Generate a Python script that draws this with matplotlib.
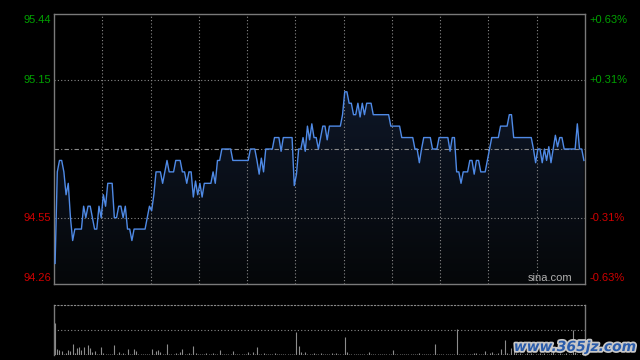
import numpy as np
import matplotlib
matplotlib.use("Agg")
import matplotlib.pyplot as plt
import matplotlib.patheffects as pe
from matplotlib.colors import LinearSegmentedColormap

# price per minute (242 minutes)
prices = [
    94.35, 94.75, 94.80, 94.80, 94.75, 94.65, 94.70, 94.55, 94.45, 94.50,
    94.50, 94.50, 94.50, 94.60, 94.55, 94.60, 94.60, 94.55, 94.50, 94.50,
    94.60, 94.55, 94.65, 94.60, 94.70, 94.70, 94.70, 94.55, 94.55, 94.60,
    94.60, 94.55, 94.60, 94.50, 94.50, 94.45, 94.50, 94.50, 94.50, 94.50,
    94.50, 94.50, 94.55, 94.60, 94.58, 94.65, 94.75, 94.75, 94.75, 94.70,
    94.75, 94.80, 94.75, 94.75, 94.75, 94.80, 94.80, 94.80, 94.75, 94.75,
    94.70, 94.75, 94.75, 94.64, 94.71, 94.65, 94.70, 94.64, 94.70, 94.70,
    94.70, 94.70, 94.75, 94.70, 94.80, 94.80, 94.85, 94.85, 94.85, 94.85,
    94.85, 94.80, 94.80, 94.80, 94.80, 94.80, 94.80, 94.80, 94.80, 94.85,
    94.85, 94.85, 94.80, 94.74, 94.81, 94.75, 94.85, 94.85, 94.85, 94.85,
    94.90, 94.90, 94.90, 94.84, 94.90, 94.90, 94.90, 94.90, 94.90, 94.69,
    94.74, 94.85, 94.85, 94.90, 94.84, 94.95, 94.89, 94.96, 94.90, 94.90,
    94.85, 94.90, 94.95, 94.95, 94.89, 94.95, 94.95, 94.95, 94.95, 94.95,
    94.95, 95.00, 95.10, 95.10, 95.05, 95.05, 95.00, 95.00, 95.05, 94.99,
    95.05, 95.00, 95.05, 95.05, 95.05, 95.00, 95.00, 95.00, 95.00, 95.00,
    95.00, 95.00, 95.00, 94.95, 94.95, 94.95, 94.95, 94.95, 94.90, 94.90,
    94.90, 94.90, 94.90, 94.90, 94.85, 94.85, 94.79, 94.85, 94.90, 94.90,
    94.90, 94.90, 94.85, 94.85, 94.85, 94.90, 94.90, 94.90, 94.90, 94.90,
    94.84, 94.90, 94.90, 94.75, 94.75, 94.70, 94.75, 94.75, 94.75, 94.80,
    94.80, 94.74, 94.80, 94.80, 94.75, 94.75, 94.75, 94.80, 94.85, 94.90,
    94.90, 94.90, 94.90, 94.95, 94.95, 94.95, 94.95, 95.00, 95.00, 94.90,
    94.90, 94.90, 94.90, 94.90, 94.90, 94.90, 94.90, 94.90, 94.85, 94.79,
    94.85, 94.85, 94.79, 94.85, 94.80, 94.86, 94.79, 94.85, 94.91, 94.86,
    94.90, 94.90, 94.85, 94.85, 94.85, 94.85, 94.85, 94.85, 94.96, 94.85,
    94.85, 94.80,
]

volumes = [
    31.7, 5.7, 5.0, 4.0, 1.0, 1.7, 5.0, 4.0, 11.0, 2.3,
    7.0, 8.0, 5.0, 7.7, 1.3, 10.0, 6.7, 3.3, 4.0, 1.0,
    0.7, 8.3, 1.7, 1.0, 0.7, 1.0, 1.3, 10.0, 1.0, 3.3,
    1.0, 2.3, 0.7, 5.7, 1.0, 1.3, 5.7, 4.0, 1.0, 0.7,
    1.0, 0.7, 1.3, 1.0, 5.7, 1.0, 4.0, 5.0, 2.7, 1.0,
    0.7, 11.0, 1.0, 1.3, 0.7, 1.7, 1.0, 3.3, 5.7, 1.0,
    1.3, 2.3, 1.0, 9.0, 2.3, 1.0, 0.7, 1.3, 1.0, 2.3,
    1.0, 0.7, 1.7, 1.0, 1.3, 4.7, 1.0, 0.7, 1.0, 1.3,
    1.0, 4.0, 1.0, 0.7, 1.3, 1.0, 1.0, 0.7, 2.7, 1.0,
    2.7, 1.0, 8.0, 1.3, 1.0, 1.7, 0.7, 1.0, 1.3, 1.0,
    1.7, 1.0, 0.7, 1.3, 1.0, 1.0, 0.7, 1.0, 1.3, 1.0,
    23.0, 9.0, 2.7, 1.0, 3.3, 1.0, 1.3, 0.7, 2.3, 1.0,
    1.0, 1.7, 0.7, 1.0, 1.3, 1.0, 2.3, 1.0, 2.3, 0.7,
    1.0, 1.3, 17.7, 3.3, 1.0, 0.7, 1.0, 1.3, 1.0, 0.7,
    1.0, 1.3, 1.0, 3.3, 1.0, 0.7, 1.0, 1.3, 1.0, 0.7,
    1.0, 1.0, 1.3, 0.7, 5.0, 1.0, 1.0, 0.7, 1.3, 1.0,
    1.0, 0.7, 1.0, 1.3, 1.0, 1.0, 2.3, 0.7, 1.0, 1.3,
    1.0, 0.7, 1.0, 11.0, 1.0, 1.3, 0.7, 1.0, 1.0, 1.3,
    1.0, 0.7, 1.0, 25.7, 1.3, 1.0, 0.7, 1.0, 1.3, 1.0,
    1.0, 2.0, 2.3, 1.0, 1.3, 1.0, 4.0, 1.0, 1.7, 3.3,
    1.0, 1.3, 2.0, 5.7, 1.0, 15.0, 1.7, 1.3, 6.7, 6.0,
    1.7, 1.3, 2.0, 1.0, 1.3, 2.3, 1.0, 1.7, 1.3, 1.0,
    1.3, 2.0, 1.0, 1.7, 1.3, 1.0, 2.3, 5.0, 1.3, 1.0,
    1.7, 1.0, 1.3, 2.0, 1.0, 1.3, 25.0, 2.7, 1.0, 1.3,
    1.7, 1.0,
]

prev_close = 94.85
y_min, y_max = 94.26, 95.44
left_labels = ["95.44", "95.15", "94.55", "94.26"]
left_values = [95.44, 95.15, 94.55, 94.26]
right_labels = ["+0.63%", "+0.31%", "-0.31%", "-0.63%"]
label_colors = ["#00a000", "#00a000", "#d00000", "#d00000"]

x = np.arange(len(prices))
n_slots = 242

fig = plt.figure(figsize=(6.4, 3.6), dpi=100, facecolor="black")
ax = fig.add_axes([54 / 640, 1 - 284 / 360, 531 / 640, 270 / 360])
ax.set_facecolor("black")
ax.set_xlim(-0.5, n_slots - 0.5)
ax.set_ylim(y_min, y_max)
ax.set_xticks([])
ax.set_yticks([])
for s in ax.spines.values():
    s.set_color("#7a7a7a")
    s.set_linewidth(1.0)

# gradient fill under line
cmap = LinearSegmentedColormap.from_list("f", ["#050709", "#121d33"])
grad = np.linspace(0, 1, 256).reshape(-1, 1)
im = ax.imshow(grad, extent=[-0.5, n_slots - 0.5, y_min, y_max], origin="lower",
               aspect="auto", cmap=cmap, zorder=1)
poly = ax.fill_between(x, prices, y_min, facecolor="none", edgecolor="none")
im.set_clip_path(poly.get_paths()[0], transform=ax.transData)

# grid
for k in range(1, 11):
    ax.axvline(-0.5 + n_slots * k / 11, color="#8a8a8a", lw=0.8, ls=(0, (1, 2)), zorder=2)
for v in [95.15, 94.55]:
    ax.axhline(v, color="#8a8a8a", lw=0.8, ls=(0, (1, 2)), zorder=2)
ax.axhline(prev_close, color="#8a8a8a", lw=0.8, ls=(0, (4, 2, 1, 2)), zorder=2)

ax.plot(x, prices, color="#4f8ae6", lw=1.0, zorder=3)

for val, lab, rl, c in zip(left_values, left_labels, right_labels, label_colors):
    dy = 0
    if val == y_max:
        dy = -6
    elif val == y_min:
        dy = 6
    ax.annotate(lab, (0, val), xycoords=("axes fraction", "data"), xytext=(-3, dy),
                textcoords="offset pixels", ha="right", va="center", color=c,
                fontsize=8, family="Liberation Sans")
    ax.annotate(rl, (1, val), xycoords=("axes fraction", "data"), xytext=(4, dy),
                textcoords="offset pixels", ha="left", va="center", color=c,
                fontsize=8, family="Liberation Sans")

ax.text(0.977, 0.005, "sina.com", transform=ax.transAxes, ha="right", va="bottom",
        color="#b0b0b0", fontsize=8, family="Liberation Sans", zorder=4)

# volume panel
axv = fig.add_axes([54 / 640, 1 - 355 / 360, 531 / 640, 50 / 360])
axv.set_facecolor("black")
axv.set_xlim(-0.5, n_slots - 0.5)
axv.set_ylim(0, 50)
axv.set_xticks([])
axv.set_yticks([])
axv.spines["bottom"].set_visible(False)
axv.spines["top"].set_color("#8a8a8a")
axv.spines["top"].set_linestyle((0, (1, 2)))
axv.spines["top"].set_linewidth(0.8)
for side in ["left", "right"]:
    axv.spines[side].set_color("#7a7a7a")
    axv.spines[side].set_linewidth(1.0)
axv.axhline(25, color="#8a8a8a", lw=0.8, ls=(0, (1, 2)))
axv.vlines(x, 0, volumes, color="#8c8c8c", lw=0.8)

fig.text((515 + 635) / 2 / 640, 1 - 347 / 360, "www.365jz.com", ha="center", va="center",
         color="#2a5cab", fontsize=10, fontweight="bold", style="italic",
         path_effects=[pe.withStroke(linewidth=2.5, foreground="#c8c8c8")])

fig.savefig("out.png", dpi=100, facecolor="black")
